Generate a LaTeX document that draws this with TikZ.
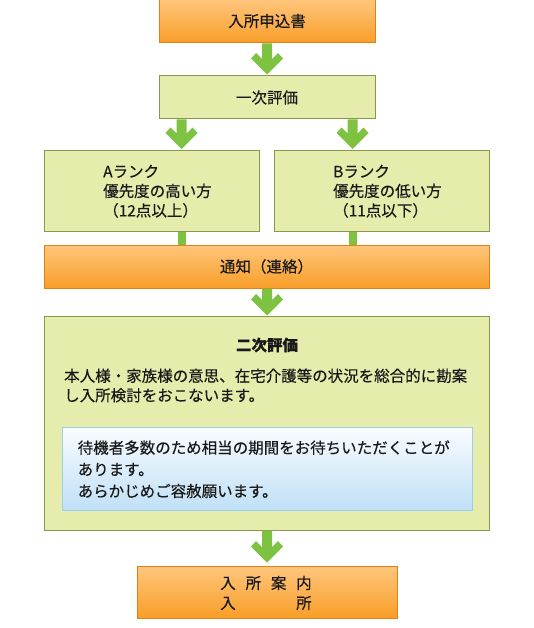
\documentclass[tikz,border=0pt]{standalone}
\usepackage{fontspec}
\setmainfont{Noto Sans CJK JP}[FakeBold=0.35]
\usetikzlibrary{calc}
\definecolor{orTop}{RGB}{255,198,125}
\definecolor{orBot}{RGB}{248,158,40}
\definecolor{orLine}{RGB}{226,128,20}
\definecolor{gnFill}{RGB}{230,236,172}
\definecolor{gnLine}{RGB}{138,152,78}
\definecolor{arGreen}{RGB}{126,194,66}
\definecolor{blTop}{RGB}{250,252,255}
\definecolor{blBot}{RGB}{192,224,246}
\definecolor{blLine}{RGB}{155,206,240}
\definecolor{txt}{RGB}{25,25,25}
\tikzset{
  base/.style={inner sep=0pt, line width=1pt, text=txt, font=\fontsize{15.5pt}{19.5pt}\selectfont},
  orbox/.style={base, draw=orLine, top color=orTop, bottom color=orBot},
  gnbox/.style={base, draw=gnLine, fill=gnFill},
  blbox/.style={base, draw=blLine, top color=blTop, bottom color=blBot},
  label/.style={inner sep=0pt, text=txt, align=left, font=\fontsize{15.5pt}{19.5pt}\selectfont},
  garrow/.style={to path={let \p1=(\tikztostart), \p2=(\tikztotarget) in
    (\x1-5pt,\y1) -- (\x1-5pt,\y2+15.5pt) -- (\x1-11pt,\y2+21.5pt) -- (\x1-16pt,\y2+16pt)
    -- (\x1,\y2) -- (\x1+16pt,\y2+16pt) -- (\x1+11pt,\y2+21.5pt) -- (\x1+5pt,\y2+15.5pt)
    -- (\x1+5pt,\y1) -- cycle}},
  gbar/.style={to path={let \p1=(\tikztostart), \p2=(\tikztotarget) in
    (\x1-4pt,\y1) rectangle (\x1+4pt,\y2)}}
}
\begin{document}
\begin{tikzpicture}[x=1pt,y=-1pt]
\useasboundingbox (0,0) rectangle (534,628);
% boxes
\node[orbox, minimum width=216pt, minimum height=44pt] (apply) at (267,21) {入所申込書};
\node[gnbox, minimum width=216pt, minimum height=43pt] (first) at (267,97.5) {一次評価};
\node[gnbox, minimum width=215pt, minimum height=80pt] (rankA) at (151.5,191) {};
\node[gnbox, minimum width=215pt, minimum height=80pt] (rankB) at (381.5,191) {};
\node[orbox, minimum width=445pt, minimum height=43pt] (notice) at (266.5,266.5) {通知（連絡）};
\node[gnbox, minimum width=445pt, minimum height=214pt] (second) at (266.5,423) {};
\node[blbox, minimum width=410pt, minimum height=83pt] (note) at (267,468.5) {};
\node[orbox, minimum width=260pt, minimum height=52pt] (admit) at (267,592) {};
% texts
\node[label, anchor=west] (textA) at (103,191.3) {Aランク\\優先度の高い方\\（12点以上）};
\node[label, anchor=west] (textB) at (333,191.3) {Bランク\\優先度の低い方\\（11点以下）};
\node[label, font=\fontsize{15.5pt}{19.5pt}\selectfont\bfseries] (secondTitle) at (267,345) {二次評価};
\node[label, anchor=west] (secondBody) at (64,385.5) {本人様・家族様の意思、在宅介護等の状況を総合的に勘案\\し入所検討をおこないます。};
\node[label, anchor=west, font=\fontsize{15.5pt}{21.7pt}\selectfont] (noteText) at (77.5,469.3) {待機者多数のため相当の期間をお待ちいただくことが\\あります。\\あらかじめご容赦願います。};
\node[label, align=center, font=\fontsize{15.5pt}{20pt}\selectfont] (admitText) at (266,593)
  {\makebox[25.3pt]{入}\makebox[25.3pt]{所}\makebox[25.3pt]{案}\makebox[25.3pt]{内}\\
   \makebox[25.3pt]{入}\makebox[25.3pt]{}\makebox[25.3pt]{}\makebox[25.3pt]{所}};
% connector anchors
\coordinate (fA) at ([xshift=23pt]first.south west);
\coordinate (fB) at ([xshift=-23pt]first.south east);
\coordinate (tA) at (fA |- rankA.north);
\coordinate (tB) at (fB |- rankB.north);
\coordinate (bA) at (fA |- rankA.south);
\coordinate (bB) at (fB |- rankB.south);
\coordinate (nA) at (fA |- notice.north);
\coordinate (nB) at (fB |- notice.north);
% connectors
\fill[arGreen] (apply.south) to[garrow] ([yshift=1pt]first.north);
\fill[arGreen] (fA) to[garrow] ([yshift=1.5pt]tA);
\fill[arGreen] (fB) to[garrow] ([yshift=1.5pt]tB);
\fill[arGreen] (bA) to[gbar] (nA);
\fill[arGreen] (bB) to[gbar] (nB);
\fill[arGreen] ([xshift=0.5pt]notice.south) to[garrow] ([xshift=0.5pt]second.north);
\fill[arGreen] ([xshift=0.5pt]second.south) to[garrow] ([yshift=3pt]admit.north);
\end{tikzpicture}
\end{document}
